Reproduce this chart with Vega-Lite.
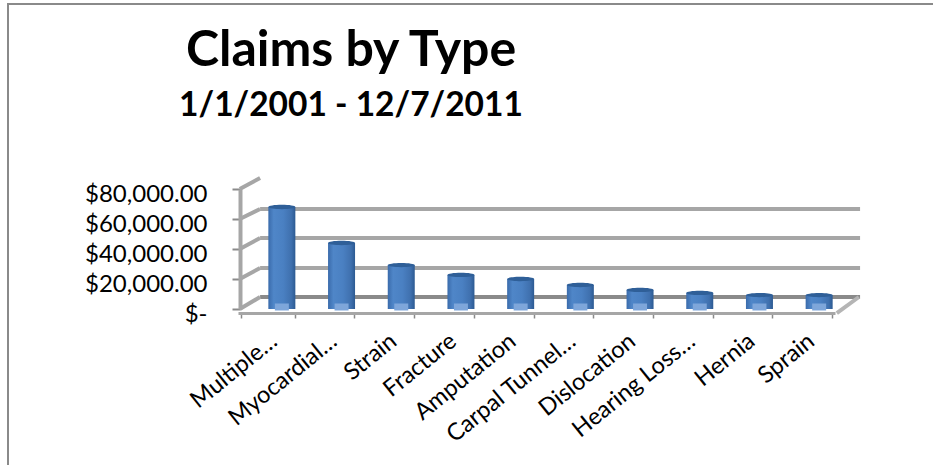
{
"$schema":"https://vega.github.io/schema/vega-lite/v6.json",
"width":932,"height":468,
"autosize":{"type":"none"},
"padding":{"left":8,"top":4,"right":0,"bottom":0},
"background":"white",
"config":{"view":{"stroke":"#8a8a8a","strokeWidth":2}},
"title":{"text":"Claims by Type","subtitle":"1/1/2001 - 12/7/2011","anchor":"middle","frame":"group","dx":-123,"dy":122,"font":"Lato","fontSize":50,"fontWeight":"bold","color":"black","subtitleFont":"Lato","subtitleFontSize":33.5,"subtitleFontWeight":"bold","subtitleColor":"black","subtitlePadding":14},
"datasets":{
"bars":[
{"type":"Multiple…","claims":64000},
{"type":"Myocardial…","claims":40000},
{"type":"Strain","claims":25300},
{"type":"Fracture","claims":18700},
{"type":"Amputation","claims":16000},
{"type":"Carpal Tunnel…","claims":12000},
{"type":"Dislocation","claims":8700},
{"type":"Hearing Loss…","claims":6700},
{"type":"Hernia","claims":5300},
{"type":"Sprain","claims":5300}],
"wall":[
{"id":"g0","kind":"floor","depth":0.37,"level":8000},{"id":"g0","kind":"floor","depth":10.42,"level":8000},
{"id":"g1","kind":"grid","depth":0.37,"level":27300},{"id":"g1","kind":"grid","depth":10.42,"level":27300},
{"id":"g2","kind":"grid","depth":0.37,"level":47300},{"id":"g2","kind":"grid","depth":10.42,"level":47300},
{"id":"g3","kind":"grid","depth":0.37,"level":66700},{"id":"g3","kind":"grid","depth":10.42,"level":66700},
{"id":"d0","kind":"grid","depth":0.03,"level":0},{"id":"d0","kind":"grid","depth":0.37,"level":8000},
{"id":"d1","kind":"grid","depth":0.03,"level":20000},{"id":"d1","kind":"grid","depth":0.37,"level":27300},
{"id":"d2","kind":"grid","depth":0.03,"level":40000},{"id":"d2","kind":"grid","depth":0.37,"level":47300},
{"id":"d3","kind":"grid","depth":0.03,"level":60000},{"id":"d3","kind":"grid","depth":0.37,"level":66700},
{"id":"d4","kind":"grid","depth":0.03,"level":80000},{"id":"d4","kind":"grid","depth":0.37,"level":87300},
{"id":"d5","kind":"edge","depth":10.03,"level":-2700},{"id":"d5","kind":"edge","depth":10.4,"level":8000}]
},
"resolve":{"scale":{"x":"independent"}},
"layer":[
{"data":{"name":"wall"},
 "mark":{"type":"line","strokeWidth":4,"clip":false},
 "encoding":{
  "x":{"field":"depth","type":"quantitative","axis":null,"scale":{"domain":[0,10],"range":[230,827],"nice":false,"zero":false}},
  "y":{"field":"level","type":"quantitative","scale":{"domain":[0,80000],"range":[305,185],"nice":false,"zero":false},
   "axis":{"title":null,"grid":false,"values":[0,20000,40000,60000,80000],"offset":-232,"domainColor":"#a6a6a6","domainWidth":4,"tickColor":"#8a8a8a","tickWidth":2,"tickSize":8,"labelFont":"Lato","labelFontSize":24,"labelColor":"black","labelPadding":25,"labelOffset":5,"labelOverlap":false,"labelBound":false,"labelFlush":false,
    "labelExpr":"datum.value === 0 ? '$-\u00a0\u00a0\u00a0' : '$' + format(datum.value, ',.2f')"}},
  "detail":{"field":"id"},
  "color":{"field":"kind","type":"nominal","legend":null,"scale":{"domain":["floor","grid","edge"],"range":["#8a8a8a","#a6a6a6","#b5b5b5"]}}
 }},
{"data":{"name":"bars"},
 "mark":{"type":"bar","size":27,"xOffset":14,"yOffset":-6,"y2Offset":0,"clip":false,
  "color":{"gradient":"linear","x1":0,"x2":1,"y1":0,"y2":0,"stops":[{"offset":0,"color":"#3a6bab"},{"offset":0.2,"color":"#4f86c8"},{"offset":0.55,"color":"#4a80c2"},{"offset":0.85,"color":"#3f70ae"},{"offset":1,"color":"#2c5a92"}]}},
 "encoding":{
  "x":{"field":"type","type":"nominal","sort":null,"scale":{"range":[230,827]},
   "axis":{"title":null,"orient":"bottom","offset":-159,"domainColor":"#a6a6a6","domainWidth":3,"tickColor":"#8a8a8a","tickWidth":1.5,"tickSize":5,"tickBand":"extent","labelAngle":-39,"labelAlign":"right","labelBaseline":"middle","labelFont":"Lato","labelFontSize":23.5,"labelColor":"black","labelPadding":20,"labelOffset":6,"labelOverlap":false,"labelBound":false,"labelLimit":0}},
  "y":{"field":"claims","type":"quantitative"},
  "y2":{"datum":0}
 }},
{"data":{"name":"bars"},
 "mark":{"type":"point","filled":true,"opacity":1,"shape":"M -1 0 A 1 0.16 0 1 1 1 0 A 1 0.16 0 1 1 -1 0 Z","size":729,"xOffset":14,"yOffset":-6,"color":"#2f5f98","clip":false},
 "encoding":{
  "x":{"field":"type","type":"nominal","sort":null,"axis":null,"scale":{"range":[230,827]}},
  "y":{"field":"claims","type":"quantitative"}
 }},
{"data":{"name":"bars"},
 "mark":{"type":"point","filled":true,"opacity":1,"shape":"M -1 -0.5 L 1 -0.5 L 1 0.5 L -1 0.5 Z","size":196,"xOffset":14,"yOffset":-2,"color":"#7ea6da","clip":false},
 "encoding":{
  "x":{"field":"type","type":"nominal","sort":null,"axis":null,"scale":{"range":[230,827]}},
  "y":{"datum":0}
 }}
]
}
